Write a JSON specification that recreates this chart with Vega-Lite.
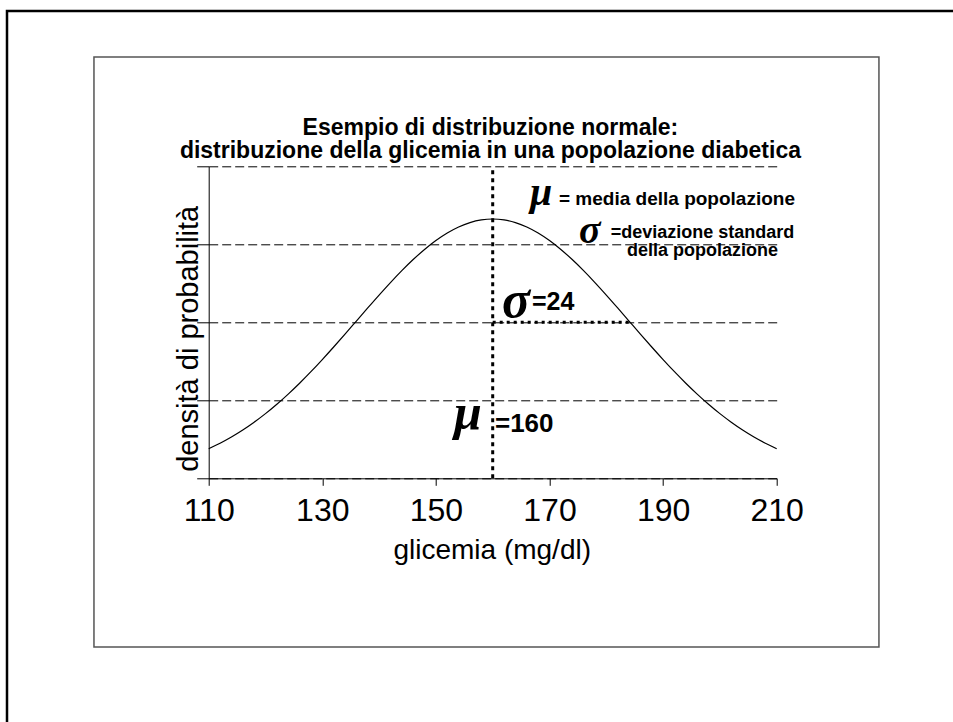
{
  "$schema": "https://vega.github.io/schema/vega-lite/v6.json",
  "width": 568,
  "height": 312,
  "autosize": {"type": "none"},
  "padding": {"left": 208.7, "top": 166.3, "right": 176.3, "bottom": 243.7},
  "background": "white",
  "config": {"view": {"stroke": null}},
  "data": {"values": [{}]},
  "datasets": {
    "curva": [
      {"glicemia": 110, "densita": 0.001898},
      {"glicemia": 112, "densita": 0.002250},
      {"glicemia": 114, "densita": 0.002648},
      {"glicemia": 116, "densita": 0.003096},
      {"glicemia": 118, "densita": 0.003595},
      {"glicemia": 120, "densita": 0.004145},
      {"glicemia": 122, "densita": 0.004746},
      {"glicemia": 124, "densita": 0.005397},
      {"glicemia": 126, "densita": 0.006094},
      {"glicemia": 128, "densita": 0.006834},
      {"glicemia": 130, "densita": 0.007611},
      {"glicemia": 132, "densita": 0.008417},
      {"glicemia": 134, "densita": 0.009244},
      {"glicemia": 136, "densita": 0.010082},
      {"glicemia": 138, "densita": 0.010921},
      {"glicemia": 140, "densita": 0.011747},
      {"glicemia": 142, "densita": 0.012548},
      {"glicemia": 144, "densita": 0.013311},
      {"glicemia": 146, "densita": 0.014022},
      {"glicemia": 148, "densita": 0.014670},
      {"glicemia": 150, "densita": 0.015241},
      {"glicemia": 152, "densita": 0.015725},
      {"glicemia": 154, "densita": 0.016112},
      {"glicemia": 156, "densita": 0.016394},
      {"glicemia": 158, "densita": 0.016565},
      {"glicemia": 160, "densita": 0.016623},
      {"glicemia": 162, "densita": 0.016565},
      {"glicemia": 164, "densita": 0.016394},
      {"glicemia": 166, "densita": 0.016112},
      {"glicemia": 168, "densita": 0.015725},
      {"glicemia": 170, "densita": 0.015241},
      {"glicemia": 172, "densita": 0.014670},
      {"glicemia": 174, "densita": 0.014022},
      {"glicemia": 176, "densita": 0.013311},
      {"glicemia": 178, "densita": 0.012548},
      {"glicemia": 180, "densita": 0.011747},
      {"glicemia": 182, "densita": 0.010921},
      {"glicemia": 184, "densita": 0.010082},
      {"glicemia": 186, "densita": 0.009244},
      {"glicemia": 188, "densita": 0.008417},
      {"glicemia": 190, "densita": 0.007611},
      {"glicemia": 192, "densita": 0.006834},
      {"glicemia": 194, "densita": 0.006094},
      {"glicemia": 196, "densita": 0.005397},
      {"glicemia": 198, "densita": 0.004746},
      {"glicemia": 200, "densita": 0.004145},
      {"glicemia": 202, "densita": 0.003595},
      {"glicemia": 204, "densita": 0.003096},
      {"glicemia": 206, "densita": 0.002648},
      {"glicemia": 208, "densita": 0.002250},
      {"glicemia": 210, "densita": 0.001898}
    ]
  },
  "layer": [
    {
      "mark": {"type": "rect", "filled": false, "stroke": "black", "strokeWidth": 2.5},
      "encoding": {
        "x": {"datum": 74.49, "type": "quantitative"},
        "x2": {"datum": 260},
        "y": {"datum": 0.029955, "type": "quantitative"},
        "y2": {"datum": -0.03}
      }
    },
    {
      "mark": {"type": "rect", "filled": false, "stroke": "#555555", "strokeWidth": 1.5},
      "encoding": {
        "x": {"datum": 89.8, "type": "quantitative"},
        "x2": {"datum": 228.0},
        "y": {"datum": 0.027006, "type": "quantitative"},
        "y2": {"datum": -0.010814}
      }
    },
    {
      "data": {"name": "curva"},
      "mark": {"type": "line", "color": "black", "strokeWidth": 1.2, "interpolate": "monotone"},
      "encoding": {
        "x": {
          "field": "glicemia",
          "type": "quantitative",
          "scale": {"domain": [110, 210], "nice": false, "zero": false},
          "axis": {
            "values": [110, 130, 150, 170, 190, 210],
            "grid": false,
            "domainColor": "black",
            "tickColor": "black",
            "tickSize": 7,
            "labelFont": "Liberation Sans",
            "labelFontSize": 32,
            "labelColor": "black",
            "labelBaseline": "alphabetic",
            "labelPadding": 35,
            "labelFlush": false,
            "title": "glicemia (mg/dl)",
            "titleFont": "Liberation Sans",
            "titleFontSize": 28,
            "titleFontWeight": "normal",
            "titleColor": "black",
            "titleBaseline": "alphabetic",
            "titleY": 80,
            "titleX": 283
          }
        },
        "y": {
          "field": "densita",
          "type": "quantitative",
          "scale": {"domain": [0, 0.02], "nice": false},
          "axis": {
            "values": [0, 0.005, 0.01, 0.015, 0.02],
            "labels": false,
            "grid": true,
            "gridColor": "black",
            "gridWidth": 1,
            "gridDash": [9, 4],
            "gridOpacity": 1,
            "domainColor": "black",
            "tickColor": "black",
            "tickSize": 12,
            "title": "densità di probabilità",
            "titleFont": "Liberation Sans",
            "titleFontSize": 29,
            "titleFontWeight": "normal",
            "titleColor": "black",
            "titleAngle": -90,
            "titleBaseline": "alphabetic",
            "titleAlign": "center",
            "titleX": -11,
            "titleY": 172
          }
        }
      }
    },
    {
      "mark": {"type": "rule", "color": "black", "strokeWidth": 3, "strokeDash": [4, 4]},
      "encoding": {
        "x": {"datum": 160, "type": "quantitative"},
        "y": {"datum": 0, "type": "quantitative"},
        "y2": {"datum": 0.02}
      }
    },
    {
      "mark": {"type": "rule", "color": "black", "strokeWidth": 3, "strokeDash": [3, 4]},
      "encoding": {
        "x": {"datum": 160, "type": "quantitative"},
        "x2": {"datum": 184.2},
        "y": {"datum": 0.01, "type": "quantitative"}
      }
    },
    {
      "mark": {"type": "text", "text": ["Esempio di distribuzione normale:", "distribuzione della glicemia in una popolazione diabetica"], "font": "Liberation Sans", "fontWeight": "bold", "fontSize": 23, "lineHeight": 23.3, "align": "center", "baseline": "alphabetic", "color": "black"},
      "encoding": {"x": {"datum": 159.6, "type": "quantitative"}, "y": {"datum": 0.022006, "type": "quantitative"}}
    },
    {
      "mark": {"type": "text", "text": "μ", "font": "Liberation Serif", "fontStyle": "italic", "fontWeight": "bold", "fontSize": 40, "align": "left", "baseline": "alphabetic", "color": "black"},
      "encoding": {"x": {"datum": 166.57, "type": "quantitative"}, "y": {"datum": 0.017519, "type": "quantitative"}}
    },
    {
      "mark": {"type": "text", "text": "= media della popolazione", "font": "Liberation Sans", "fontWeight": "bold", "fontSize": 19, "align": "left", "baseline": "alphabetic", "color": "black"},
      "encoding": {"x": {"datum": 171.67, "type": "quantitative"}, "y": {"datum": 0.017519, "type": "quantitative"}}
    },
    {
      "mark": {"type": "text", "text": "σ", "font": "Liberation Serif", "fontStyle": "italic", "fontWeight": "bold", "fontSize": 40, "align": "left", "baseline": "alphabetic", "color": "black"},
      "encoding": {"x": {"datum": 175.2, "type": "quantitative"}, "y": {"datum": 0.015083, "type": "quantitative"}}
    },
    {
      "mark": {"type": "text", "text": ["=deviazione standard", "della popolazione"], "font": "Liberation Sans", "fontWeight": "bold", "fontSize": 18, "lineHeight": 18, "align": "center", "baseline": "alphabetic", "color": "black"},
      "encoding": {"x": {"datum": 196.94, "type": "quantitative"}, "y": {"datum": 0.015404, "type": "quantitative"}}
    },
    {
      "mark": {"type": "text", "text": "σ", "font": "Liberation Serif", "fontStyle": "italic", "fontWeight": "bold", "fontSize": 52, "align": "left", "baseline": "alphabetic", "color": "black"},
      "encoding": {"x": {"datum": 161.64, "type": "quantitative"}, "y": {"datum": 0.01034, "type": "quantitative"}}
    },
    {
      "mark": {"type": "text", "text": "=24", "font": "Liberation Sans", "fontWeight": "bold", "fontSize": 25, "align": "left", "baseline": "alphabetic", "color": "black"},
      "encoding": {"x": {"datum": 166.92, "type": "quantitative"}, "y": {"datum": 0.010788, "type": "quantitative"}}
    },
    {
      "mark": {"type": "text", "text": "μ", "font": "Liberation Serif", "fontStyle": "italic", "fontWeight": "bold", "fontSize": 50, "align": "left", "baseline": "alphabetic", "color": "black"},
      "encoding": {"x": {"datum": 153.2, "type": "quantitative"}, "y": {"datum": 0.00316, "type": "quantitative"}}
    },
    {
      "mark": {"type": "text", "text": "=160", "font": "Liberation Sans", "fontWeight": "bold", "fontSize": 26, "align": "left", "baseline": "alphabetic", "color": "black"},
      "encoding": {"x": {"datum": 160.4, "type": "quantitative"}, "y": {"datum": 0.002968, "type": "quantitative"}}
    }
  ]
}
